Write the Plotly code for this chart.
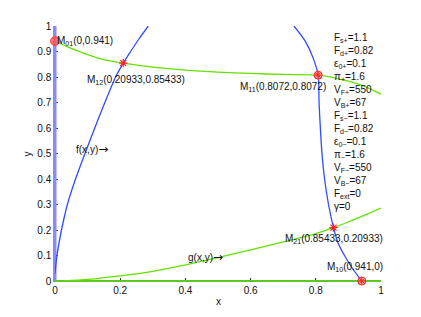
import plotly.graph_objects as go

# ---- data ----
# g(x,y)=0 nullcline, lower branch (green)
g_low_x = [0.029, 0.1, 0.2, 0.3, 0.4, 0.5, 0.6, 0.7, 0.8, 0.85433, 0.9, 0.95, 1.0]
g_low_y = [0.0, 0.006, 0.02, 0.038, 0.063, 0.092, 0.122, 0.153, 0.186, 0.20933, 0.232, 0.258, 0.286]
# g(x,y)=0 nullcline, upper branch (green)
g_up_x = [0.0, 0.05, 0.1, 0.15, 0.20933, 0.3, 0.4, 0.5, 0.6, 0.7, 0.8072, 0.874, 0.94, 1.0]
g_up_y = [0.941, 0.912, 0.888, 0.868, 0.85433, 0.839, 0.827, 0.819, 0.814, 0.810, 0.8072, 0.792, 0.768, 0.733]
# f(x,y)=0 nullcline, lower-left branch (blue)
f_low_x = [0.0, 0.006, 0.02, 0.038, 0.063, 0.092, 0.122, 0.153, 0.186, 0.20933, 0.232, 0.258, 0.286]
f_low_y = [0.029, 0.1, 0.2, 0.3, 0.4, 0.5, 0.6, 0.7, 0.8, 0.85433, 0.9, 0.95, 1.0]
# f(x,y)=0 nullcline, right branch (blue)
f_up_x = [0.941, 0.912, 0.888, 0.868, 0.85433, 0.839, 0.827, 0.819, 0.814, 0.810, 0.8072, 0.792, 0.768, 0.733]
f_up_y = [0.0, 0.05, 0.1, 0.15, 0.20933, 0.3, 0.4, 0.5, 0.6, 0.7, 0.8072, 0.874, 0.94, 1.0]
# trivial nullclines
f_axis_x = [0, 0]
f_axis_y = [0, 1]
g_axis_x = [0, 1]
g_axis_y = [0, 0]

# fixed points
stable_names = ["01", "11", "10"]
stable_x = [0.0, 0.8072, 0.941]
stable_y = [0.941, 0.8072, 0.0]
saddle_names = ["12", "21"]
saddle_x = [0.20933, 0.85433]
saddle_y = [0.85433, 0.20933]

params = [
    "F<sub>s+</sub>=1.1", "F<sub>d+</sub>=0.82", "ε<sub>0+</sub>=0.1", "π<sub>+</sub>=1.6",
    "V<sub>F+</sub>=550", "V<sub>B+</sub>=67",
    "F<sub>s−</sub>=1.1", "F<sub>d−</sub>=0.82", "ε<sub>0−</sub>=0.1", "π<sub>−</sub>=1.6",
    "V<sub>F−</sub>=550", "V<sub>B−</sub>=67",
    "F<sub>ext</sub>=0", "γ=0",
]

x_ticks = [0, 0.2, 0.4, 0.6, 0.8, 1]
x_tick_text = ["0", "0.2", "0.4", "0.6", "0.8", "1"]
y_ticks = [0, 0.1, 0.2, 0.3, 0.4, 0.5, 0.6, 0.7, 0.8, 0.9, 1]
y_tick_text = ["0", "0.1", "0.2", "0.3", "0.4", "0.5", "0.6", "0.7", "0.8", "0.9", "1"]

BLUE = "#2f4cff"
LBLUE = "#8a8aff"
GREEN = "#66e000"
GREEN2 = "#5cc826"
RED = "#ff2020"
FONT = "Liberation Sans"
ARROW = '<span style="font-family:DejaVu Sans;font-size:12px">→</span>'

fig = go.Figure()
fig.add_trace(go.Scatter(x=f_axis_x, y=f_axis_y, mode="lines",
                         line=dict(color=LBLUE, width=3), hoverinfo="skip"))
fig.add_trace(go.Scatter(x=g_axis_x, y=g_axis_y, mode="lines",
                         line=dict(color=GREEN2, width=2), hoverinfo="skip"))
for xs, ys in [(g_low_x, g_low_y), (g_up_x, g_up_y)]:
    fig.add_trace(go.Scatter(x=xs, y=ys, mode="lines",
                             line=dict(color=GREEN, width=1.3, shape="spline", smoothing=0.8)))
for xs, ys in [(f_low_x, f_low_y), (f_up_x, f_up_y)]:
    fig.add_trace(go.Scatter(x=xs, y=ys, mode="lines",
                             line=dict(color=BLUE, width=1.3, shape="spline", smoothing=0.8)))

# stable point on the axis: filled light-red circle
fig.add_trace(go.Scatter(x=stable_x[:1], y=stable_y[:1], mode="markers", cliponaxis=False,
                         marker=dict(symbol="circle", size=9, color="rgba(255,80,80,0.8)",
                                     line=dict(color="rgba(255,60,60,0.9)", width=1))))
# other stable points: ringed circle with star
fig.add_trace(go.Scatter(x=stable_x[1:], y=stable_y[1:], mode="markers", cliponaxis=False,
                         marker=dict(symbol="circle", size=8, color="rgba(255,120,120,0.55)",
                                     line=dict(color=RED, width=1))))
fig.add_trace(go.Scatter(x=stable_x[1:], y=stable_y[1:], mode="markers", cliponaxis=False,
                         marker=dict(symbol="asterisk-open", size=6, color=RED,
                                     line=dict(color=RED, width=1))))
fig.add_trace(go.Scatter(x=saddle_x, y=saddle_y, mode="markers", cliponaxis=False,
                         marker=dict(symbol="asterisk-open", size=7, color=RED,
                                     line=dict(color=RED, width=1.2))))

ann = []
def lab(x, y, text):
    ann.append(dict(x=x, y=y, xref="x", yref="y", text=text, showarrow=False,
                    xanchor="left", yanchor="middle",
                    font=dict(family=FONT, size=10, color="#111")))

lab(0.0, 0.94, "M<sub>01</sub>(0,0.941)")
lab(0.092, 0.79, "M<sub>12</sub>(0.20933,0.85433)")
lab(0.562, 0.762, "M<sub>11</sub>(0.8072,0.8072)")
lab(0.699, 0.163, "M<sub>21</sub>(0.85433,0.20933)")
lab(0.827, 0.054, "M<sub>10</sub>(0.941,0)")
lab(0.058, 0.519, "f(x,y)" + ARROW)
lab(0.401, 0.094, "g(x,y)" + ARROW)

ann.append(dict(x=0.849, y=0.985, xref="x", yref="y", text="<br>".join(params),
                showarrow=False, xanchor="left", yanchor="top", align="left",
                font=dict(family=FONT, size=10, color="#111")))
ann.append(dict(x=0.5, y=-0.08, xref="paper", yref="paper", text="x", showarrow=False,
                xanchor="center", yanchor="middle", font=dict(family=FONT, size=10, color="#111")))
ann.append(dict(x=-0.083, y=0.5, xref="paper", yref="paper", text="y", showarrow=False,
                textangle=-90, xanchor="center", yanchor="middle",
                font=dict(family=FONT, size=10, color="#111")))

# page body has an 8px margin: shift margins so the plot area lands at 55..381 x 23..281
fig.update_layout(
    width=421, height=317,
    margin=dict(l=47, r=48, t=15, b=44),
    paper_bgcolor="white", plot_bgcolor="white",
    showlegend=False,
    annotations=ann,
    font=dict(family=FONT, size=10, color="#111"),
)
# axis lines sit under the x=0 / y=0 nullclines, so they take those lines' colours
fig.update_xaxes(range=[0, 1], tickvals=x_ticks, ticktext=x_tick_text,
                 ticks="inside", ticklen=3, tickcolor="#333", showline=True, linecolor=GREEN2,
                 linewidth=1, showgrid=False, zeroline=False, mirror=False, layer="below traces",
                 tickfont=dict(family=FONT, size=10, color="#111"))
fig.update_yaxes(range=[0, 1], tickvals=y_ticks, ticktext=y_tick_text,
                 ticks="inside", ticklen=3, tickcolor="#333", showline=True, linecolor=LBLUE,
                 linewidth=1.5, showgrid=False, zeroline=False, mirror=False, layer="below traces",
                 tickfont=dict(family=FONT, size=10, color="#111"))

fig.write_html("out.html")
